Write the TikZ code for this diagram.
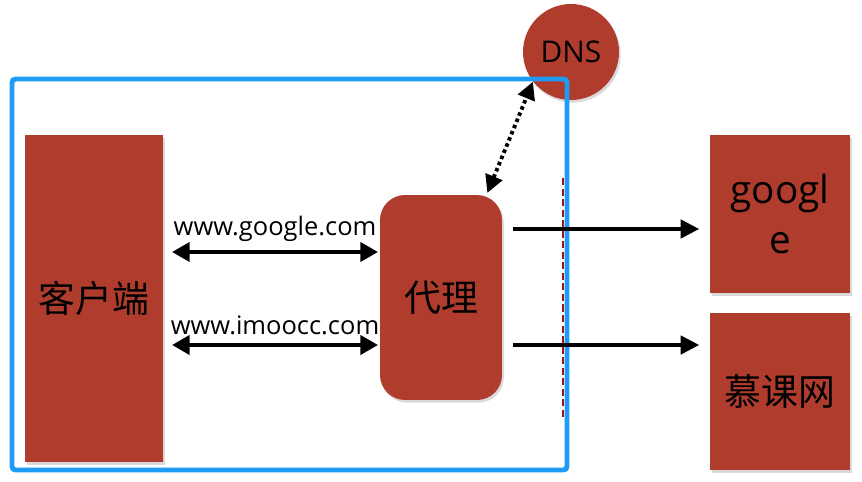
\documentclass[tikz,border=0pt]{standalone}
\usepackage{fontspec}
\setmainfont{Open Sans}
\newfontfamily\cjk{Noto Sans CJK SC}
\usetikzlibrary{arrows.meta,shadows}
\definecolor{brique}{RGB}{176,60,46}
\definecolor{bleu}{RGB}{30,155,245}
\definecolor{rougef}{RGB}{165,20,20}

\begin{document}
\begin{tikzpicture}[x=0.02cm,y=-0.02cm,
  boite/.style={fill=brique, inner sep=0pt, align=center,
    drop shadow={opacity=0.3,shadow xshift=1pt,shadow yshift=-1.5pt}},
  fleche/.style={line width=1.8pt, -{Triangle[length=10.5pt,width=10.5pt]}},
  doublefleche/.style={line width=1.8pt,
    {Triangle[length=10pt,width=11pt]}-{Triangle[length=10pt,width=11pt]}},
  etiquette/.style={font=\fontsize{14.5}{17}\selectfont, inner sep=1pt}]

\useasboundingbox (0,0) rectangle (862,482);

\node[boite, minimum width=2.76cm, minimum height=6.54cm] (client) at (94,298.5)
  {\cjk\fontsize{21}{25}\selectfont 客户端};
\node[boite, rounded corners=0.5cm, minimum width=2.44cm, minimum height=4.1cm] (proxy) at (441,297.5)
  {\cjk\fontsize{21}{25}\selectfont 代理};
\node[boite, circle, minimum size=1.92cm] (dns) at (571,52)
  {\fontsize{17}{20}\selectfont DNS};
\node[boite, minimum width=2.8cm, minimum height=3.16cm, font=\fontsize{22}{29}\selectfont] (google) at (780,214)
  {googl\\e};
\node[boite, minimum width=2.8cm, minimum height=3.14cm] (imooc) at (780,391.5)
  {\cjk\fontsize{21}{25}\selectfont 慕课网};

\draw [rougef, dash pattern=on 4pt off 2pt, line width=0.8pt] (563,178) -- (563,418) ;
\draw [bleu, line width=2.8pt, rounded corners=2pt] (12,79) rectangle (567,470) ;

\draw [doublefleche] ([xshift=5pt]client.east |- 0,252) -- ([xshift=-1pt]proxy.west |- 0,252)
  node[midway, above=4pt, etiquette] {www.google.com};
\draw [doublefleche] ([xshift=5pt]client.east |- 0,345) -- ([xshift=-1pt]proxy.west |- 0,345)
  node[midway, above=4pt, etiquette] {www.imoocc.com};

\draw [fleche] ([xshift=6pt]proxy.east |- 0,229) -- ([xshift=-6pt]google.west |- 0,229) ;
\draw [fleche] ([xshift=6pt]proxy.east |- 0,345) -- ([xshift=-6pt]imooc.west |- 0,345) ;

\draw [line width=2.2pt, dash pattern=on 2pt off 1.8pt,
  {Triangle[length=10pt,width=10pt]}-{Triangle[length=10pt,width=10pt]}]
  ([xshift=-0.3cm, yshift=1pt]proxy.north east) -- (dns.218) ;

\end{tikzpicture}
\end{document}
